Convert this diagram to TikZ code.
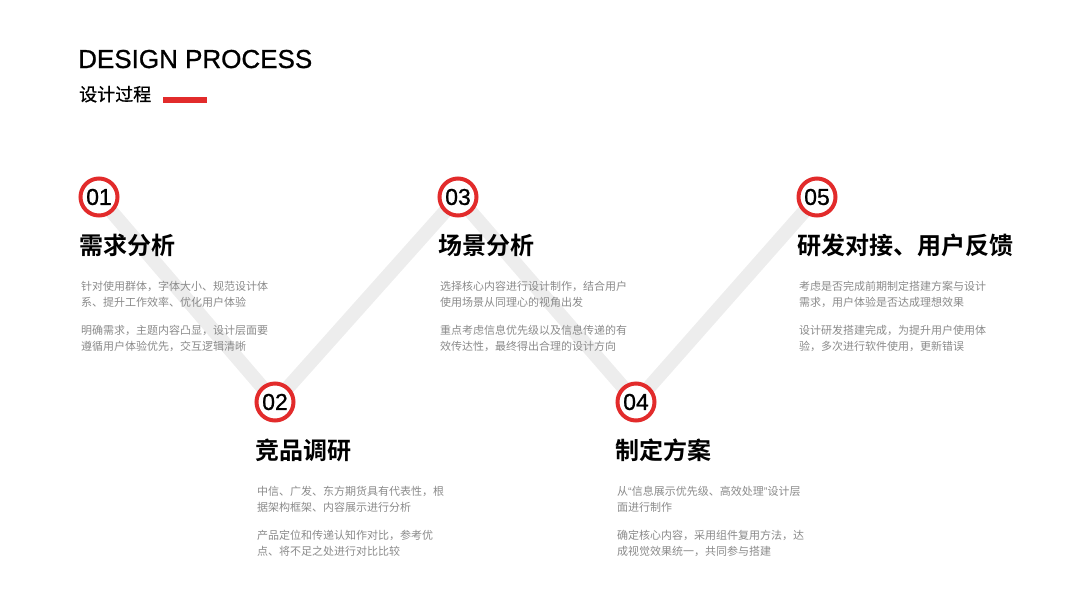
\documentclass[tikz,border=0pt]{standalone}
\usepackage{fontspec}
\setmainfont{Liberation Sans}
\newfontfamily\heavy[FakeBold=0.9]{Liberation Sans}
\newfontfamily\cjk[BoldFont={Noto Sans CJK SC Bold}]{Noto Sans CJK SC}
\newfontfamily\cjkmid[FakeBold=0.6]{Noto Sans CJK SC}
\newcommand\latinq[1]{{\rmfamily #1}}
\usetikzlibrary{backgrounds}
\definecolor{markred}{HTML}{E22B2B}
\definecolor{pathgray}{HTML}{EDEDED}
\definecolor{bodygray}{HTML}{8A8A8A}
\tikzset{
  stepnum/.style={circle,draw=markred,line width=4pt,fill=white,minimum size=37pt,inner sep=0pt,font=\heavy\fontsize{23}{23}\selectfont},
  stephead/.style={anchor=base west,inner sep=0pt,font=\cjk\bfseries\fontsize{24}{24}\selectfont},
  stepbody/.style={anchor=base west,inner sep=0pt,align=left,text=bodygray,font=\cjk\fontsize{11}{16}\selectfont},
}
\begin{document}
\begin{tikzpicture}[x=1pt,y=-1pt]
\useasboundingbox (0,0) rectangle (1067,600);

% Title
\node[anchor=base west,inner sep=0pt,font=\heavy\fontsize{26}{26}\selectfont] (title) at (78,68) {DESIGN PROCESS};
\node[anchor=base west,inner sep=0pt,font=\cjkmid\fontsize{18}{18}\selectfont] (subtitle) at (79,101) {设计过程};
\node[fill=markred,minimum width=44pt,minimum height=6pt,inner sep=0pt,anchor=west] (bar) at (163,99.5) {};

% Numbered steps
\foreach \n/\x/\y in {1/99/197,2/275/402,3/458/197,4/636/402,5/817/197} {
    \node[stepnum] (c\n) at (\x,\y) {0\n};
}

% Zigzag path behind the circles
\begin{scope}[on background layer]
\draw[pathgray,line width=14pt] (c1.center) -- (c2.center) -- (c3.center) -- (c4.center) -- (c5.center);
\end{scope}

% Step 01
\node[stephead] (h1) at (79,254) {需求分析};
\node[stepbody] (t1a) at (81,306) {针对使用群体，字体大小、规范设计体\\系、提升工作效率、优化用户体验};
\node[stepbody] (t1b) at (81,350) {明确需求，主题内容凸显，设计层面要\\遵循用户体验优先，交互逻辑清晰};

% Step 02
\node[stephead] (h2) at (255,459) {竞品调研};
\node[stepbody] (t2a) at (257,511) {中信、广发、东方期货具有代表性，根\\据架构框架、内容展示进行分析};
\node[stepbody] (t2b) at (257,555) {产品定位和传递认知作对比，参考优\\点、将不足之处进行对比比较};

% Step 03
\node[stephead] (h3) at (438,254) {场景分析};
\node[stepbody] (t3a) at (440,306) {选择核心内容进行设计制作，结合用户\\使用场景从同理心的视角出发};
\node[stepbody] (t3b) at (440,350) {重点考虑信息优先级以及信息传递的有\\效传达性，最终得出合理的设计方向};

% Step 04
\node[stephead] (h4) at (615,459) {制定方案};
\node[stepbody] (t4a) at (617,511) {从\latinq{“}信息展示优先级、高效处理\latinq{”}设计层\\面进行制作};
\node[stepbody] (t4b) at (617,555) {确定核心内容，采用组件复用方法，达\\成视觉效果统一，共同参与搭建};

% Step 05
\node[stephead] (h5) at (797,254) {研发对接、用户反馈};
\node[stepbody] (t5a) at (799,306) {考虑是否完成前期制定搭建方案与设计\\需求，用户体验是否达成理想效果};
\node[stepbody] (t5b) at (799,350) {设计研发搭建完成，为提升用户使用体\\验，多次进行软件使用，更新错误};
\end{tikzpicture}
\end{document}
